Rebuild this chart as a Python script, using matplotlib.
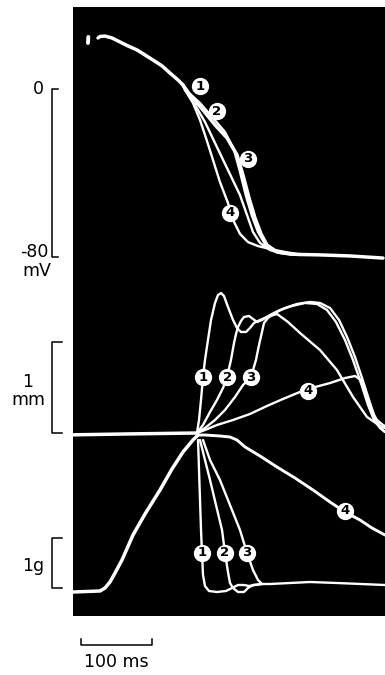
import matplotlib
matplotlib.use("Agg")
import matplotlib.pyplot as plt
import numpy as np

plt.rcParams['font.family'] = ['DejaVu Sans']

# ---------------- action potentials (time in ms, membrane potential in mV)
ap_head_t = [35.2, 38.0, 45.1, 54.9, 66.2, 77.5, 90.1, 101.4, 112.7, 125.4, 136.6, 147.9, 154.9]
ap_head_v = [24.3, 25.0, 25.2, 24.3, 22.4, 20.5, 18.6, 16.2, 13.8, 11.0, 7.6, 4.3, 1.9]
ap_tail_t = [319.7, 347.9, 390.1, 436.6]
ap_tail_v = [-78.8, -79.0, -79.5, -80.5]

ap1_t = [162.0, 178.9, 197.2, 214.1, 226.8, 235.2, 243.7, 252.1, 260.6, 270.4, 284.5, 305.6]
ap1_v = [-1.4, -6.7, -13.8, -20.5, -29.0, -39.5, -51.0, -60.5, -68.1, -73.8, -77.1, -78.6]
ap2_t = [157.7, 171.8, 185.9, 200.0, 218.3, 235.2, 245.1, 253.5, 263.4, 277.5, 291.6, 305.6]
ap2_v = [-0.5, -7.6, -15.7, -25.7, -38.6, -50.5, -60.0, -68.1, -73.3, -76.7, -78.1, -78.6]
ap3_t = [164.8, 183.1, 200.0, 216.9, 231.0, 239.4, 247.9, 256.3, 264.8, 273.2, 287.3, 305.6]
ap3_v = [-2.9, -10.0, -17.1, -23.3, -31.4, -41.0, -51.9, -61.4, -69.0, -74.3, -77.6, -78.6]
ap4_t = [156.3, 169.0, 178.9, 187.3, 197.2, 207.0, 218.3, 226.8, 235.2, 246.5, 260.6, 277.5, 298.6]
ap4_v = [0.5, -6.7, -14.8, -23.3, -33.8, -44.3, -54.3, -63.3, -69.0, -72.9, -74.8, -76.2, -77.6]

stim_t = [21.1, 21.6]
stim_v = [21.9, 24.8]

ap_label_t = [178.9, 202.8, 246.5, 221.1]
ap_label_v = [1.4, -10.5, -33.3, -59.0]

# ---------------- displacement (mm)
disp_base_t = [0.0, 80.0, 174.6]
disp_base_v = [-0.02, -0.01, 0.0]

d1_t = [174.6, 177.5, 180.3, 183.1, 185.9, 190.1, 194.4, 200.0, 204.2, 208.5, 212.7, 218.3,
        225.4, 231.0, 236.6, 243.7, 249.3, 254.9, 263.4, 273.2, 287.3, 302.8, 319.7, 347.9,
        371.8, 394.4, 414.1, 432.4, 439.4]
d1_v = [0.0, 0.143, 0.363, 0.615, 0.802, 1.022, 1.242, 1.429, 1.516, 1.538, 1.505, 1.385,
        1.242, 1.154, 1.110, 1.110, 1.154, 1.209, 1.242, 1.275, 1.308, 1.220, 1.099, 0.912,
        0.692, 0.396, 0.176, 0.077, 0.055]
d2_t = [174.6, 183.1, 193.0, 202.8, 211.3, 216.9, 222.5, 226.8, 229.6, 232.4, 236.6, 240.8,
        247.9, 253.5, 259.2, 266.2, 277.5, 291.6, 308.5, 326.8, 343.7, 357.7, 370.4, 383.1,
        394.4, 405.6, 415.5, 424.0, 432.4, 439.4]
d2_v = [0.0, 0.088, 0.231, 0.363, 0.495, 0.615, 0.802, 0.989, 1.088, 1.165, 1.231, 1.275,
        1.286, 1.253, 1.220, 1.242, 1.297, 1.352, 1.396, 1.429, 1.418, 1.352, 1.220, 1.022,
        0.802, 0.549, 0.308, 0.143, 0.055, 0.011]
d3_t = [174.6, 185.9, 200.0, 214.1, 228.2, 239.4, 250.7, 257.7, 262.0, 266.2, 269.0, 274.6,
        284.5, 298.6, 315.5, 333.8, 347.9, 362.0, 374.7, 386.0, 397.2, 407.1, 417.0, 425.4,
        433.8, 439.4]
d3_v = [0.0, 0.055, 0.143, 0.253, 0.396, 0.527, 0.615, 0.802, 0.967, 1.110, 1.209, 1.264,
        1.319, 1.374, 1.418, 1.440, 1.429, 1.374, 1.242, 1.055, 0.835, 0.604, 0.363, 0.165,
        0.055, 0.011]
d4_t = [174.6, 185.9, 202.8, 225.4, 249.3, 273.2, 295.8, 319.7, 340.8, 362.0, 383.1, 397.2,
        405.6, 412.7, 419.7, 428.2, 436.6, 439.4]
d4_v = [0.0, 0.033, 0.088, 0.143, 0.209, 0.297, 0.374, 0.451, 0.505, 0.549, 0.604, 0.626,
        0.582, 0.418, 0.253, 0.143, 0.088, 0.077]

disp_label_t = [183.1, 217.6, 250.7, 331.0]
disp_label_v = [0.615, 0.615, 0.615, 0.462]

# ---------------- force (g)
f_rise_t = [0.0, 38.0, 45.1, 52.1, 59.2, 69.0, 84.5, 101.4, 122.5, 139.4, 154.9, 169.0, 176.1]
f_rise_v = [-0.08, -0.06, 0.0, 0.12, 0.30, 0.56, 1.06, 1.48, 1.96, 2.38, 2.72, 2.96, 3.06]
f_tail_t = [266.2, 277.5, 305.6, 333.8, 371.8, 439.4]
f_tail_v = [0.08, 0.08, 0.10, 0.12, 0.10, 0.06]

f1_t = [176.1, 177.5, 178.9, 180.3, 181.7, 183.1, 185.9, 191.5, 202.8, 215.5, 224.0, 232.4,
        240.8, 247.9, 256.3, 266.2]
f1_v = [2.96, 2.36, 1.76, 1.16, 0.70, 0.26, 0.04, -0.06, -0.08, -0.06, 0.0, 0.06,
        0.06, 0.04, 0.06, 0.08]
f2_t = [178.9, 185.9, 193.0, 201.4, 209.9, 214.1, 218.3, 221.1, 225.4, 232.4, 240.8, 246.5,
        253.5, 266.2]
f2_v = [2.96, 2.56, 2.16, 1.66, 1.16, 0.70, 0.32, 0.10, 0.0, -0.08, -0.08, 0.0,
        0.06, 0.08]
f3_t = [183.1, 193.0, 207.0, 221.1, 235.2, 245.1, 253.5, 260.6, 266.2]
f3_v = [2.96, 2.56, 2.16, 1.66, 1.16, 0.70, 0.36, 0.16, 0.08]
f4_t = [176.1, 185.9, 207.0, 221.1, 231.0, 242.3, 263.4, 287.3, 312.7, 338.0, 362.0, 383.1,
        404.2, 421.1, 439.4]
f4_v = [3.06, 3.06, 3.04, 3.02, 2.96, 2.82, 2.64, 2.42, 2.20, 1.96, 1.72, 1.52,
        1.36, 1.20, 1.06]

force_label_t = [181.7, 214.1, 245.1, 383.1]
force_label_v = [0.70, 0.70, 0.70, 1.54]

label_text = ["1", "2", "3", "4"]

# ---------------- layout (pixels of a 385 x 675 canvas)
W, H = 385, 675
PX_LEFT, PX_RIGHT, PX_TOP, PX_BOTTOM = 73, 385, 7, 616
MS_PER_PX = 1.4085


def ylim_for(zero_px, px_per_unit):
    return (zero_px - PX_BOTTOM) / px_per_unit, (zero_px - PX_TOP) / px_per_unit


fig = plt.figure(figsize=(W / 100, H / 100), dpi=100)
fig.patch.set_facecolor("white")
rect = [PX_LEFT / W, 1 - PX_BOTTOM / H, (PX_RIGHT - PX_LEFT) / W, (PX_BOTTOM - PX_TOP) / H]

ax_bg = fig.add_axes(rect)
ax_bg.set_facecolor("black")
ax_bg.set_xticks([]); ax_bg.set_yticks([])
for s in ax_bg.spines.values():
    s.set_visible(False)

xlim = (0, (PX_RIGHT - PX_LEFT) * MS_PER_PX)


def overlay(ylim):
    ax = fig.add_axes(rect)
    ax.patch.set_alpha(0)
    ax.set_xlim(*xlim)
    ax.set_ylim(*ylim)
    ax.axis("off")
    return ax


ax_v = overlay(ylim_for(89, 2.1))
ax_d = overlay(ylim_for(433, 91))
ax_f = overlay(ylim_for(588, 50))

WHITE = "white"
LW_MAIN = 2.5
LW_THIN = 1.7


def trace(ax, t, v, lw=LW_THIN):
    ax.plot(t, v, color=WHITE, lw=lw, solid_capstyle="round", solid_joinstyle="round")


def badges(ax, ts, vs):
    ax.scatter(ts, vs, s=155, color=WHITE, zorder=5, linewidths=0)
    for t, v, s in zip(ts, vs, label_text):
        ax.text(t, v, s, ha="center", va="center", fontsize=9.5, fontweight="bold",
                color="black", zorder=6)


# action potentials
trace(ax_v, ap_head_t, ap_head_v, LW_MAIN)
trace(ax_v, ap_tail_t, ap_tail_v, LW_MAIN)
trace(ax_v, stim_t, stim_v, 2.8)
for t, v, lw in [(ap1_t, ap1_v, LW_THIN), (ap2_t, ap2_v, LW_THIN),
                 (ap3_t, ap3_v, LW_MAIN), (ap4_t, ap4_v, LW_THIN)]:
    trace(ax_v, [ap_head_t[-1]] + t + [ap_tail_t[0]], [ap_head_v[-1]] + v + [ap_tail_v[0]], lw)
badges(ax_v, ap_label_t, ap_label_v)

# displacement
trace(ax_d, disp_base_t, disp_base_v, LW_MAIN)
for t, v in [(d1_t, d1_v), (d2_t, d2_v), (d3_t, d3_v), (d4_t, d4_v)]:
    trace(ax_d, t, v)
badges(ax_d, disp_label_t, disp_label_v)

# force
trace(ax_f, f_rise_t, f_rise_v, LW_MAIN)
trace(ax_f, f_tail_t, f_tail_v)
for t, v in [(f1_t, f1_v), (f2_t, f2_v), (f3_t, f3_v)]:
    trace(ax_f, t, v)
trace(ax_f, f4_t, f4_v, 2.1)
badges(ax_f, force_label_t, force_label_v)

# calibration brackets and labels (drawn outside the panel)
X_BAR = (52 - PX_LEFT) * MS_PER_PX
X_TICK_V = (58 - PX_LEFT) * MS_PER_PX
X_TICK = (62 - PX_LEFT) * MS_PER_PX
kw = dict(color="black", lw=1.1, clip_on=False)
FS = 12.5

ax_v.plot([X_TICK_V, X_BAR, X_BAR, X_TICK_V], [0, 0, -80, -80], **kw)
ax_v.text((44 - PX_LEFT) * MS_PER_PX, 0, "0", ha="right", va="center", fontsize=FS, clip_on=False)
ax_v.text((48.5 - PX_LEFT) * MS_PER_PX, -77.6, "-80", ha="right", va="center", fontsize=FS, clip_on=False)
ax_v.text((37 - PX_LEFT) * MS_PER_PX, -86.5, "mV", ha="center", va="center", fontsize=FS, clip_on=False)

ax_d.plot([X_TICK, X_BAR, X_BAR, X_TICK], [1, 1, 0, 0], **kw)
ax_d.text((28 - PX_LEFT) * MS_PER_PX, 0.56, "1", ha="center", va="center", fontsize=FS, clip_on=False)
ax_d.text((28 - PX_LEFT) * MS_PER_PX, 0.36, "mm", ha="center", va="center", fontsize=FS, clip_on=False)

ax_f.plot([X_TICK, X_BAR, X_BAR, X_TICK], [1, 1, 0, 0], **kw)
ax_f.text((33 - PX_LEFT) * MS_PER_PX, 0.44, "1g", ha="center", va="center", fontsize=FS, clip_on=False)

# time calibration: 100 ms
t0 = (81 - PX_LEFT) * MS_PER_PX
ax_f.plot([t0, t0, t0 + 100, t0 + 100], [-1.02, -1.14, -1.14, -1.02], **kw)
ax_f.text(t0 + 50, -1.48, "100 ms", ha="center", va="center", fontsize=FS, clip_on=False)

fig.savefig("out.png", dpi=100, facecolor="white")
